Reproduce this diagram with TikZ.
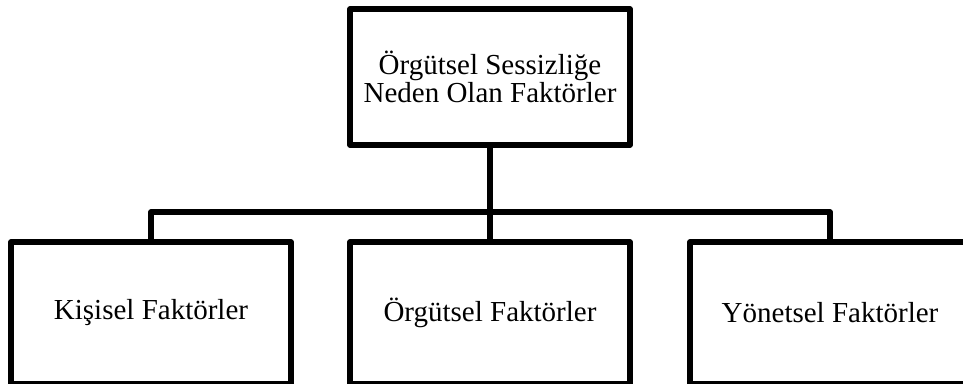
\documentclass[tikz,border=0pt]{standalone}
\usepackage{fontspec}
\setmainfont{Liberation Serif}
\begin{document}
\begin{tikzpicture}[x=1pt,y=-1pt,
  boxnode/.style={draw=black, line width=5.5pt, fill=white, inner sep=0pt, outer sep=0pt,
    align=center, font=\fontsize{29}{28.5}\selectfont, line join=round},
  conn/.style={draw=black, line width=5.5pt, line join=round}]
\useasboundingbox (0,0) rectangle (963,383);
\node[boxnode, minimum width=280pt, minimum height=136pt] (top) at (490,77) {Örgütsel Sessizliğe\\Neden Olan Faktörler};
\node[boxnode, minimum width=280pt, minimum height=142pt] (left) at (151,313) {Kişisel Faktörler};
\node[boxnode, minimum width=280pt, minimum height=142pt] (mid) at (490,313) {Örgütsel Faktörler};
\node[boxnode, minimum width=280pt, minimum height=142pt] (right) at (830,313) {Yönetsel Faktörler};
\coordinate (bus) at (490,212);
\draw[conn] (top.south) -- (mid.north);
\draw[conn] (left.north) |- (bus) -| (right.north);
\end{tikzpicture}
\end{document}
